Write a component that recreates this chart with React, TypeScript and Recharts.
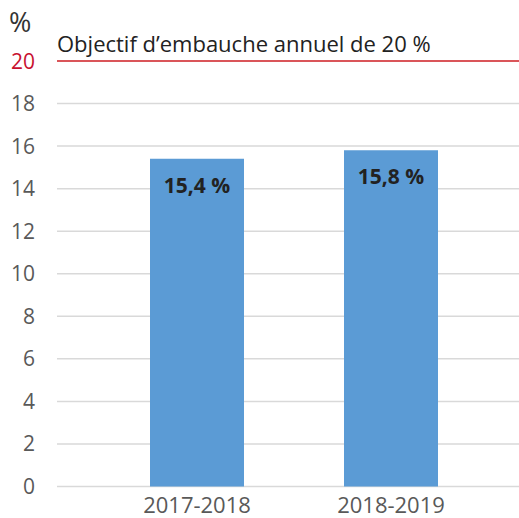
import React from 'react';
import { BarChart, Bar, XAxis, YAxis, CartesianGrid, ReferenceLine, LabelList } from 'recharts';

const categories = ['2017-2018', '2018-2019'];
const values = [15.4, 15.8];
const valueLabels = ['15,4 %', '15,8 %'];
const yTicks = [0, 2, 4, 6, 8, 10, 12, 14, 16, 18, 20];
const targetValue = 20;
const targetLabel = 'Objectif d\u2019embauche annuel de 20 %';
const unitLabel = '%';

const data = categories.map((c, i) => ({ name: c, value: values[i], label: valueLabels[i] }));

const FONT = '"Open Sans", sans-serif';

const YTick = (props: any) => {
  const { x, y, payload } = props;
  const isTarget = payload.value === targetValue;
  return (
    <text x={x} y={y} dy={7.5} textAnchor="end" fontSize={21} fontFamily={FONT} fill={isTarget ? '#C8102E' : '#595959'}>
      {payload.value}
    </text>
  );
};

export default function App() {
  return (
    <div style={{ position: 'absolute', left: 0, top: 0, width: 519, height: 518, background: '#fff' }}>
      <div style={{ position: 'absolute', left: 9, top: 8, fontFamily: FONT, fontSize: 27, lineHeight: 1, color: '#333' }}>{unitLabel}</div>
      <BarChart width={519} height={518} data={data} margin={{ top: 61, right: 0, bottom: 0, left: 0 }}>
        <CartesianGrid vertical={false} stroke="#d9d9d9" strokeWidth={1.5} />
        <XAxis
          dataKey="name"
          height={31.5}
          axisLine={false}
          tickLine={false}
          padding={{ left: 43, right: 31 }}
          tick={{ fontSize: 22, fontFamily: FONT, fill: '#595959' }}
          tickMargin={5}
        />
        <YAxis
          width={57}
          domain={[0, 20]}
          ticks={yTicks}
          axisLine={false}
          tickLine={false}
          tickMargin={16}
          tick={<YTick />}
          interval={0}
        />
        <ReferenceLine
          y={targetValue}
          stroke="#D7262B"
          strokeWidth={1.5}
          label={{ value: targetLabel, position: 'insideTopLeft', offset: 0, dy: -25, fontSize: 22, fontFamily: FONT, fill: '#222' }}
        />
        <Bar dataKey="value" fill="#5B9BD5" barSize={94} isAnimationActive={false}>
          <LabelList dataKey="label" position="insideTop" offset={19} fontSize={21} fontWeight="bold" fontFamily={FONT} fill="#222" />
        </Bar>
      </BarChart>
    </div>
  );
}
